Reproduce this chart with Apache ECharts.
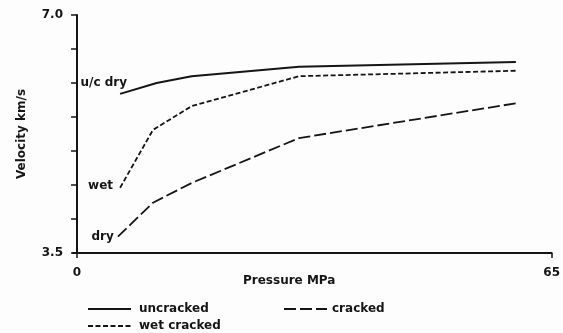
<!DOCTYPE html>
<html>
<head>
<meta charset="utf-8">
<script src="https://cdn.jsdelivr.net/npm/echarts@6/dist/echarts.min.js"></script>
<style>
  html, body { margin: 0; padding: 0; background: #fdfdfd; }
  #chart { width: 563px; height: 333px; }
</style>
</head>
<body>
<div id="chart"></div>
<script>
// Pressure (MPa) and P-wave velocity (km/s) for each rock state
const uncrackedPressure = [5.9, 10.9, 15.7, 30.4, 60.1];
const uncrackedVelocity = [5.84, 6.00, 6.10, 6.24, 6.31];

const wetPressure = [5.9, 10.4, 15.7, 30.4, 60.1];
const wetVelocity = [4.46, 5.31, 5.66, 6.10, 6.18];

const crackedPressure = [5.6, 10.4, 15.7, 30.4, 60.6];
const crackedVelocity = [3.74, 4.24, 4.53, 5.19, 5.71];

const seriesNames = ['uncracked', 'cracked', 'wet cracked'];
const startLabels = ['u/c dry', 'dry', 'wet'];
const xTickValues = [0, 65];
const yTickLabels = ['3.5', '7.0'];

const INK = '#151515';
const FONT = '"DejaVu Sans", sans-serif';

// Points of one curve; the first point carries the curve's name tag
function pairs(xs, ys, labelText, offset) {
  return xs.map((x, i) => {
    const item = { value: [x, ys[i]] };
    if (i === 0) {
      item.label = {
        show: true,
        formatter: labelText,
        position: 'left',
        distance: 5,
        offset: offset,
        color: INK,
        fontFamily: FONT,
        fontWeight: 'bold',
        fontSize: 12
      };
    }
    return item;
  });
}

function curve(name, width, dash, xs, ys, tag, offset) {
  return {
    name: name,
    type: 'line',
    symbol: 'circle',
    symbolSize: 0.1,
    showSymbol: true,
    lineStyle: { color: INK, width: width, type: dash },
    itemStyle: { color: INK },
    label: { show: false },
    data: pairs(xs, ys, tag, offset)
  };
}

const chart = echarts.init(document.getElementById('chart'), null, { renderer: 'canvas' });

const legendText = { color: INK, fontFamily: FONT, fontWeight: 'bold', fontSize: 12, padding: [0, 0, 0, 3] };
const legendBase = {
  padding: 0,
  itemWidth: 43,
  itemHeight: 12,
  itemStyle: { opacity: 0 },
  textStyle: legendText
};

chart.setOption({
  backgroundColor: '#fdfdfd',
  animation: false,
  grid: { left: 73, right: 9, top: 15, bottom: 80, containLabel: false },
  xAxis: {
    type: 'value',
    min: -0.55,
    max: 65,
    splitLine: { show: false },
    axisLine: { show: true, lineStyle: { color: INK, width: 2 } },
    axisTick: { show: true, length: 5, lineStyle: { color: INK, width: 1.5 }, customValues: xTickValues },
    axisLabel: {
      show: true, customValues: xTickValues, margin: 14,
      color: INK, fontFamily: FONT, fontWeight: 'bold', fontSize: 12
    }
  },
  yAxis: {
    type: 'value',
    min: 3.5,
    max: 7.0,
    interval: 0.5,
    name: 'Velocity km/s',
    nameLocation: 'middle',
    nameGap: 45,
    nameRotate: 90,
    nameTextStyle: { color: INK, fontFamily: FONT, fontWeight: 'bold', fontSize: 12 },
    splitLine: { show: false },
    axisLine: { show: true, lineStyle: { color: INK, width: 2 } },
    axisTick: { show: true, length: 6, lineStyle: { color: INK, width: 1.5 } },
    axisLabel: {
      margin: 10,
      color: INK, fontFamily: FONT, fontWeight: 'bold', fontSize: 12,
      formatter: v => {
        const s = v.toFixed(1);
        return yTickLabels.includes(s) ? s : '';
      }
    }
  },
  legend: [
    Object.assign({}, legendBase, { data: [seriesNames[0]], left: 87, top: 303 }),
    Object.assign({}, legendBase, { data: [seriesNames[1]], left: 283, top: 303,
      textStyle: Object.assign({}, legendText, { padding: 0 }) }),
    Object.assign({}, legendBase, { data: [seriesNames[2]], left: 87, top: 320 })
  ],
  graphic: [
    {
      type: 'text',
      left: 243,
      top: 275,
      style: { text: 'Pressure MPa', fill: INK, font: 'bold 12px ' + FONT }
    }
  ],
  series: [
    curve(seriesNames[0], 2, 'solid', uncrackedPressure, uncrackedVelocity, startLabels[0], [12, -11]),
    curve(seriesNames[1], 1.8, [12, 4], crackedPressure, crackedVelocity, startLabels[1], [1, 0]),
    curve(seriesNames[2], 1.8, [5, 2.5], wetPressure, wetVelocity, startLabels[2], [-2, -2])
  ]
});
</script>
</body>
</html>
